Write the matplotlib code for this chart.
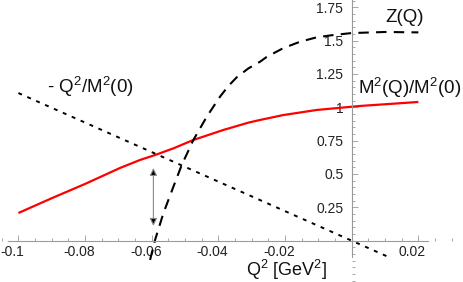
import numpy as np
import matplotlib
matplotlib.use('Agg')
import matplotlib.pyplot as plt
from matplotlib.ticker import FixedLocator, MultipleLocator
from matplotlib.transforms import ScaledTranslation

plt.rcParams['font.family'] = ['Liberation Sans', 'DejaVu Sans']
plt.rcParams['mathtext.fontset'] = 'custom'
plt.rcParams['mathtext.rm'] = 'Liberation Sans'
plt.rcParams['mathtext.it'] = 'Liberation Sans'

# M^2(Q)/M^2(0), red solid
q2_mass = [-0.100, -0.090, -0.080, -0.0695, -0.0635, -0.059, -0.0535, -0.0475,
           -0.0385, -0.031, -0.0275, -0.0205, -0.0105, 0.0025, 0.020]
mass = [0.207, 0.318, 0.425, 0.545, 0.605, 0.642, 0.692, 0.755,
        0.830, 0.885, 0.905, 0.942, 0.980, 1.010, 1.040]

# Z(Q), dashed
q2_z = [-0.0605, -0.0590, -0.0565, -0.0535, -0.0510, -0.0475, -0.0435, -0.0395,
        -0.037, -0.0345, -0.031, -0.0275, -0.0255, -0.0206, -0.0155, -0.0105,
        -0.0056, 0.0, 0.010, 0.020]
z = [-0.145, 0.005, 0.205, 0.404, 0.567, 0.755, 0.929, 1.080,
     1.160, 1.225, 1.292, 1.342, 1.378, 1.443, 1.492, 1.525,
     1.542, 1.557, 1.565, 1.562]

# -Q^2/M^2(0), dotted straight line
q2_lin = [-0.100, 0.0115]
lin = [1.107, -0.128]

# double arrow
arrow_x = -0.0595
arrow_y = [0.11, 0.545]

xticks = [-0.1, -0.08, -0.06, -0.04, -0.02, 0.02]
xticklabels = ['-0.1', '-0.08', '-0.06', '-0.04', '-0.02', '0.02']
yticks = [0.25, 0.5, 0.75, 1.0, 1.25, 1.5, 1.75]
yticklabels = ['0.25', '0.5', '0.75', '1', '1.25', '1.5', '1.75']

fig = plt.figure(figsize=(4.63, 2.82), dpi=100)
ax = fig.add_axes([0, 0, 1, 1])
ax.set_xlim(-0.10552, 0.03339)
ax.set_ylim(-0.3106, 1.805)

axis_col = '#9a9a9a'
for s in ['top', 'right']:
    ax.spines[s].set_visible(False)
ax.spines['left'].set_position(('data', 0))
ax.spines['bottom'].set_position(('data', 0))
ax.spines['left'].set_bounds(-0.123, 1.805)
ax.spines['bottom'].set_bounds(-0.1031, 0.0229)
for s in ['left', 'bottom']:
    ax.spines[s].set_color(axis_col)
    ax.spines[s].set_linewidth(0.8)

ax.xaxis.set_major_locator(FixedLocator(xticks))
ax.set_xticklabels(xticklabels)
ax.xaxis.set_minor_locator(MultipleLocator(0.005))
ax.yaxis.set_major_locator(FixedLocator(yticks))
ax.set_yticklabels(yticklabels)
ax.yaxis.set_minor_locator(MultipleLocator(0.05))
ax.tick_params(which='both', direction='in', color=axis_col, width=0.6,
               labelsize=10, labelcolor='#222222')
ax.tick_params(which='major', length=4)
ax.tick_params(which='minor', length=2)
ax.tick_params(axis='x', pad=3)
ax.tick_params(axis='y', pad=6)

shift = ScaledTranslation(-6 / 100, 0, fig.dpi_scale_trans)
for lbl in ax.get_xticklabels():
    lbl.set_transform(lbl.get_transform() + shift)

ax.plot(q2_mass, mass, color='red', lw=1.6, solid_capstyle='butt')
ax.plot(q2_z, z, color='black', lw=1.5, dashes=(5, 3.5))
ax.plot(q2_lin, lin, color='black', lw=1.4, dashes=(2, 3))

ax.annotate('', xy=(arrow_x, arrow_y[1]), xytext=(arrow_x, arrow_y[0]),
            arrowprops=dict(arrowstyle='<|-|>,head_length=0.45,head_width=0.22',
                            fc='black', ec='#8a8a8a', lw=0.8,
                            shrinkA=0, shrinkB=0))

ax.text(405, 282 - 18, 'Z(Q)', transform=None, fontsize=13.5,
        ha='center', va='center', color='#111111')
ax.text(410, 282 - 88, r'M$^2$(Q)/M$^2$(0)', transform=None, fontsize=13.5,
        ha='center', va='center', color='#111111')
ax.text(90, 282 - 87, r'- Q$^2$/M$^2$(0)', transform=None, fontsize=13.5,
        ha='center', va='center', color='#111111')
ax.text(287, 282 - 276.5, r'Q$^2$ [GeV$^2$]', transform=None, fontsize=13,
        ha='center', va='baseline', color='#111111')

fig.savefig('out.png', dpi=100)
